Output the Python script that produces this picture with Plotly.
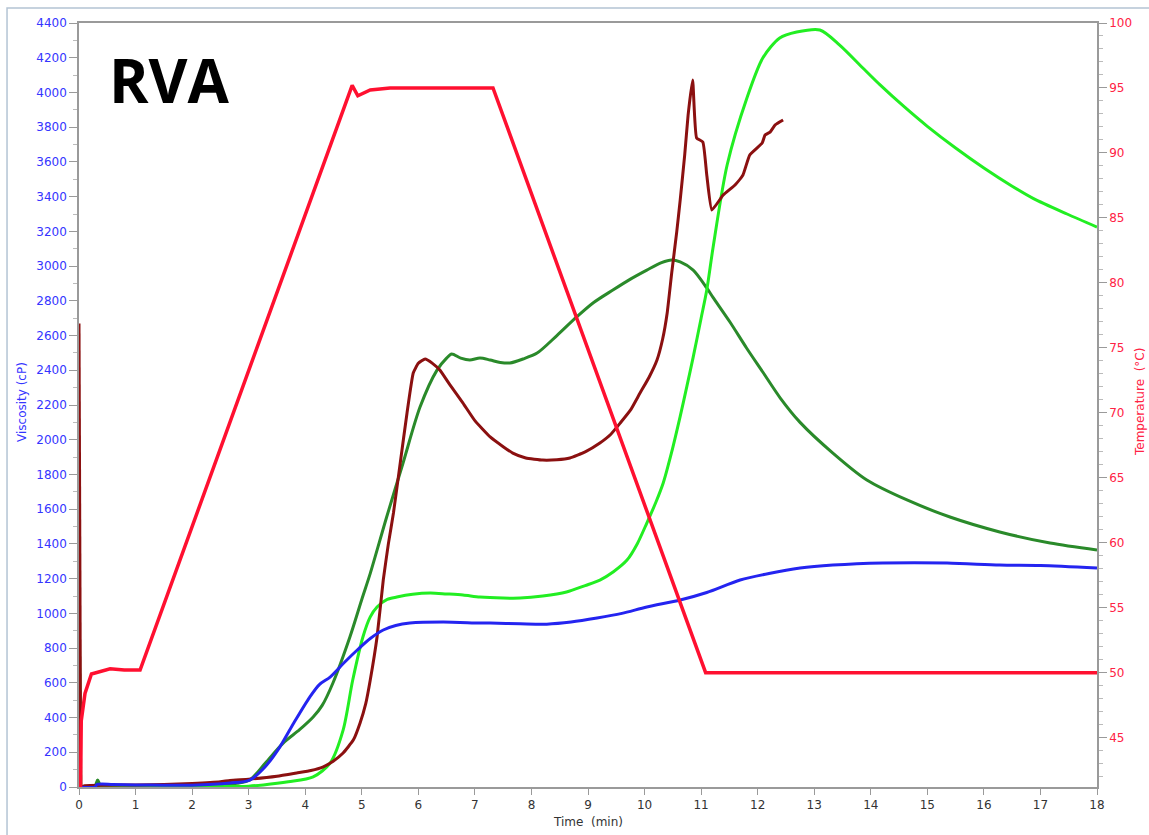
import plotly.graph_objects as go

# ---- data ----
t_maroon = [0, 0.03, 0.1, 0.5, 1.0, 1.5, 2.0, 2.5, 2.67, 3.0, 3.5, 3.85, 4.1, 4.31, 4.5, 4.67, 4.85,
            4.97, 5.07, 5.15, 5.27, 5.38, 5.47, 5.56, 5.68, 5.80, 5.91, 6.0, 6.12, 6.25, 6.38, 6.55,
            6.79, 7.0, 7.27, 7.5, 7.67, 7.9, 8.2, 8.45, 8.68, 8.95, 9.21, 9.4, 9.57, 9.75, 9.92,
            10.08, 10.22, 10.32, 10.40, 10.48, 10.57, 10.63, 10.71, 10.77, 10.85, 10.92, 11.03,
            11.10, 11.19, 11.39, 11.60, 11.74, 11.86, 12.08, 12.13, 12.22, 12.31, 12.45]
v_maroon = [2670, 0, 8, 10, 12, 14, 20, 30, 38, 45, 62, 81, 95, 115, 150, 196, 270,
            369, 480, 616, 864, 1192, 1400, 1578, 1866, 2154, 2384, 2440, 2465, 2440, 2401, 2320,
            2211, 2110, 2016, 1960, 1923, 1895, 1883, 1885, 1895, 1930, 1981, 2030, 2096, 2170, 2269,
            2360, 2459, 2580, 2730, 2960, 3200, 3380, 3640, 3870, 4072, 3738, 3715,
            3525, 3323, 3409, 3467, 3525, 3640, 3709, 3755, 3772, 3813, 3841]

t_dgreen = [0, 0.03, 0.28, 0.33, 0.38, 0.6, 1.0, 1.5, 2.0, 2.5, 2.8, 3.02, 3.3, 3.61, 3.9, 4.14, 4.3,
            4.49, 4.79, 5.0, 5.15, 5.44, 5.73, 6.03, 6.33, 6.5, 6.59, 6.75, 6.91, 7.09, 7.27, 7.45,
            7.62, 7.85, 8.10, 8.45, 8.80, 9.1, 9.44, 9.75, 10.04, 10.3, 10.48, 10.63, 10.86, 11.10,
            11.21, 11.51, 11.8, 12.09, 12.4, 12.75, 13.33, 13.93, 14.64, 15.40, 16.28, 17.17, 18.0]
v_dgreen = [1200, 0, 5, 40, 10, 8, 8, 8, 10, 15, 22, 40, 140, 253, 330, 403, 470,
            599, 864, 1080, 1230, 1555, 1866, 2188, 2401, 2470, 2494, 2470, 2459, 2471, 2459, 2445,
            2442, 2465, 2499, 2600, 2707, 2790, 2862, 2925, 2977, 3020, 3035, 3024, 2977, 2874,
            2820, 2678, 2530, 2390, 2240, 2100, 1923, 1768, 1653, 1555, 1469, 1405, 1365]

t_lgreen = [0, 0.03, 0.5, 1.0, 2.0, 3.0, 3.26, 3.7, 4.14, 4.44, 4.67, 4.84, 5.02, 5.15, 5.27, 5.45,
            5.62, 5.9, 6.21, 6.5, 6.79, 7.09, 7.5, 7.80, 8.2, 8.62, 8.95, 9.21, 9.45, 9.69, 9.87,
            10.04, 10.2, 10.33, 10.48, 10.63, 10.75, 10.86, 11.0, 11.10, 11.21, 11.46, 11.81, 12.09,
            12.39, 12.69, 13.10, 13.45, 13.86, 14.16, 14.6, 15.0, 15.5, 16.0, 16.5, 16.87, 17.47, 18.0]
v_lgreen = [1000, 0, 2, 2, 3, 5, 12, 30, 58, 138, 328, 616, 864, 980, 1037, 1080,
            1094, 1110, 1117, 1112, 1106, 1094, 1088, 1088, 1100, 1123, 1160, 1192, 1240, 1307, 1400,
            1520, 1640, 1751, 1930, 2135, 2310, 2476, 2700, 2862, 3104, 3582, 3968, 4198,
            4314, 4348, 4360, 4273, 4141, 4045, 3915, 3805, 3680, 3565, 3460, 3390, 3300, 3225]

t_blue = [0, 0.28, 0.32, 0.6, 1.0, 1.5, 2.0, 2.67, 3.02, 3.3, 3.55, 3.8, 4.08, 4.25, 4.44, 4.7, 4.92,
          5.15, 5.38, 5.6, 5.85, 6.44, 7.09, 7.27, 7.8, 8.27, 8.7, 9.16, 9.6, 10.04, 10.63, 11.1,
          11.69, 12.2, 12.75, 13.33, 14.21, 15.35, 16.28, 17.0, 18.0]
v_blue = [0, 0, 15, 15, 12, 10, 10, 23, 40, 120, 230, 370, 518, 590, 633, 720, 789,
          855, 904, 930, 944, 950, 944, 944, 940, 938, 950, 973, 1000, 1037, 1077, 1120,
          1192, 1230, 1261, 1278, 1290, 1290, 1278, 1275, 1261]

t_temp = [0.0, 0.02, 0.04, 0.106, 0.22, 0.55, 0.8, 1.08, 4.83, 4.93, 5.15, 5.5, 6.5, 7.32, 11.08, 12.0, 18.0]
v_temp = [36, 38, 46.3, 48.4, 49.9, 50.3, 50.2, 50.2, 95.2, 94.4, 94.85, 95.0, 95.0, 95.0, 50.0, 50.0, 50.0]

x_ticks = list(range(0, 19))
visc_ticks = list(range(0, 4401, 200))
temp_ticks = list(range(45, 101, 5))

FONT = "DejaVu Sans"
BLUE_TXT = "#3535ff"
RED_TXT = "#ff2244"
AXC = "#9a9a9a"

fig = go.Figure()
fig.add_trace(go.Scatter(x=t_temp, y=v_temp, yaxis="y2", mode="lines",
                         line=dict(color="#ff1030", width=3.5), showlegend=False))


def add_series(t, v, color, smoothing):
    # initial spike at t=0 drawn straight, rest smoothed
    fig.add_trace(go.Scatter(x=t[:2], y=v[:2], mode="lines",
                             line=dict(color=color, width=3), showlegend=False))
    fig.add_trace(go.Scatter(x=t[1:], y=v[1:], mode="lines",
                             line=dict(color=color, width=3, shape="spline", smoothing=smoothing),
                             showlegend=False))


add_series(t_dgreen, v_dgreen, "#2a8a2a", 0.8)
add_series(t_lgreen, v_lgreen, "#22ee22", 0.8)
add_series(t_maroon, v_maroon, "#8b1010", 0.4)
fig.add_trace(go.Scatter(x=t_blue, y=v_blue, mode="lines",
                         line=dict(color="#2424f0", width=3, shape="spline", smoothing=0.8),
                         showlegend=False))

fig.update_layout(
    width=1149, height=835,
    margin=dict(l=79, r=52, t=23, b=48, autoexpand=False),
    paper_bgcolor="white", plot_bgcolor="white",
    font=dict(family=FONT, size=12),
    xaxis=dict(range=[0, 18], tickvals=x_ticks, ticks="outside", ticklen=6, tickcolor=AXC,
               showline=True, linecolor=AXC, linewidth=1.5, mirror=True, showgrid=False,
               zeroline=False, tickfont=dict(color="#333333", size=12), automargin=False,
               layer="below traces"),
    yaxis=dict(range=[0, 4400], tickvals=visc_ticks, ticks="outside", ticklen=8, tickcolor=AXC,
               showline=True, linecolor=AXC, linewidth=1.5, showgrid=False, zeroline=False,
               tickfont=dict(color=BLUE_TXT, size=12), automargin=False, layer="below traces",
               minor=dict(dtick=100, ticks="outside", ticklen=4, tickcolor="#bbbbbb", showgrid=False)),
    yaxis2=dict(range=[41.2, 100], overlaying="y", side="right", tickvals=temp_ticks,
                ticks="outside", ticklen=8, tickcolor=AXC, showline=True, linecolor=AXC,
                linewidth=1.5, showgrid=False, zeroline=False, automargin=False,
                tickfont=dict(color=RED_TXT, size=12), layer="below traces",
                minor=dict(dtick=1, ticks="outside", ticklen=4, tickcolor="#bbbbbb", showgrid=False)),
    shapes=[dict(type="rect", xref="paper", yref="paper", x0=-0.0707, x1=1.2, y0=-0.2, y1=1.0196,
                 line=dict(color="#b4c4d4", width=1.5), fillcolor="rgba(0,0,0,0)", layer="below")],
    annotations=[
        dict(text="<b>RVA</b>", xref="paper", yref="paper", x=(169 - 79) / 1018, y=(787 - 80) / 764,
             showarrow=False, font=dict(family="Open Sans", size=60, color="black"),
             xanchor="center", yanchor="middle"),
        dict(text="Time  (min)", xref="paper", yref="paper", x=0.5, y=(787 - 822) / 764,
             showarrow=False, font=dict(family=FONT, size=12, color="#333333"),
             xanchor="center", yanchor="middle"),
        dict(text="Viscosity (cP)", xref="paper", yref="paper", x=(22 - 79) / 1018, y=(787 - 402) / 764,
             showarrow=False, textangle=-90, font=dict(family=FONT, size=12, color=BLUE_TXT),
             xanchor="center", yanchor="middle"),
        dict(text="Temperature  (°C)", xref="paper", yref="paper", x=(1140 - 79) / 1018,
             y=(787 - 402) / 764, showarrow=False, textangle=-90,
             font=dict(family=FONT, size=12, color=RED_TXT), xanchor="center", yanchor="middle"),
    ],
)

fig.write_html("out.html")
